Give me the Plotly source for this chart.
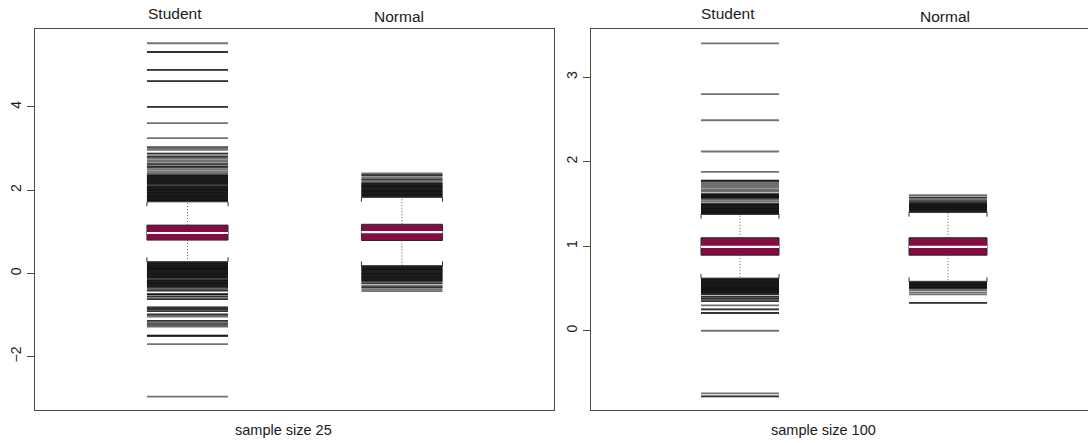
import plotly.graph_objects as go

# ---------------------------------------------------------------- data
groups = ["Student", "Normal"]
positions = [1, 2]

# sample size 25: box statistics per group (Student, Normal)
n25_q1 = [0.80, 0.79]
n25_median = [0.97, 0.99]
n25_q3 = [1.16, 1.18]
n25_whisker_low = [0.28, 0.18]
n25_whisker_high = [1.72, 1.83]

n25_student_outliers = [
    5.53, 5.32, 5.32, 4.89, 4.89, 4.62, 4.62, 4.00, 4.00, 3.61, 3.25,
    3.04, 3.01, 2.97, 2.88, 2.88, 2.82, 2.80, 2.77, 2.72, 2.68, 2.63,
    2.62, 2.58, 2.56, 2.54, 2.50, 2.45, 2.41,
    2.37, 2.355, 2.34, 2.33, 2.31, 2.30, 2.285, 2.27, 2.26, 2.24, 2.23,
    2.215, 2.20, 2.185, 2.17, 2.16, 2.145, 2.12,
    2.095, 2.08, 2.07, 2.055, 2.04, 2.025, 2.01, 2.00, 1.985, 1.97,
    1.955, 1.94, 1.93, 1.915, 1.90, 1.885, 1.87, 1.86, 1.845, 1.83,
    1.815, 1.80, 1.79, 1.775, 1.76, 1.75, 1.74,
    0.27, 0.255, 0.245, 0.23, 0.215, 0.20, 0.19, 0.175, 0.16, 0.145,
    0.13, 0.12, 0.105, 0.09, 0.075, 0.065, 0.05, 0.035, 0.02, 0.005,
    -0.005, -0.02, -0.035, -0.05, -0.065, -0.075, -0.09, -0.105, -0.12,
    -0.155, -0.165, -0.18, -0.195, -0.21, -0.225, -0.24, -0.25, -0.265,
    -0.28, -0.295, -0.31, -0.325, -0.335,
    -0.37, -0.40, -0.42, -0.50, -0.50, -0.51, -0.56, -0.56, -0.62, -0.62,
    -0.82, -0.82, -0.86, -0.86, -0.905, -0.905, -0.98, -1.00, -1.04,
    -1.14, -1.14, -1.19, -1.22, -1.25, -1.28, -1.49, -1.50, -1.51,
    -1.70, -2.96,
]
n25_normal_outliers = [
    2.40, 2.36, 2.36, 2.31, 2.26, 2.26, 2.215,
    2.175, 2.165, 2.15, 2.135, 2.12, 2.105, 2.09, 2.08, 2.065, 2.05,
    2.035, 2.02, 2.005, 1.99, 1.98, 1.965, 1.95, 1.935, 1.92, 1.905,
    1.895, 1.88, 1.865, 1.85, 1.84,
    0.175, 0.165, 0.15, 0.135, 0.12, 0.105, 0.09, 0.08, 0.065, 0.05,
    0.035, 0.02, 0.005, -0.005, -0.02, -0.035, -0.05, -0.065, -0.08,
    -0.09, -0.105, -0.12, -0.135, -0.15, -0.165, -0.18, -0.195,
    -0.24, -0.24, -0.30, -0.335, -0.335, -0.385, -0.425,
]

# sample size 100
n100_q1 = [0.894, 0.894]
n100_median = [0.992, 0.992]
n100_q3 = [1.10, 1.10]
n100_whisker_low = [0.619, 0.579]
n100_whisker_high = [1.378, 1.403]

n100_student_outliers = [
    3.40, 2.80, 2.49, 2.12, 1.88, 1.776, 1.776, 1.77, 1.75, 1.73, 1.71,
    1.69, 1.665, 1.645,
    1.62, 1.613, 1.607, 1.60, 1.593, 1.586, 1.58, 1.573, 1.565,
    1.55, 1.53,
    1.505, 1.499, 1.492, 1.485, 1.479, 1.472, 1.465, 1.458, 1.452, 1.445,
    1.438, 1.432, 1.425, 1.418, 1.411, 1.405, 1.398, 1.391, 1.385, 1.379,
    0.619, 0.612, 0.606, 0.599, 0.592, 0.585, 0.579, 0.572, 0.565, 0.558,
    0.552, 0.545, 0.538, 0.532, 0.525, 0.518, 0.511, 0.505, 0.498, 0.491,
    0.485, 0.478, 0.471, 0.464, 0.458, 0.451, 0.444,
    0.43, 0.43, 0.40, 0.40, 0.378, 0.378, 0.35, 0.35, 0.30, 0.253, 0.253,
    0.21, 0.21, 0.0, -0.74, -0.775, -0.775,
]
n100_normal_outliers = [
    1.603, 1.575, 1.575, 1.55, 1.535, 1.52,
    1.51, 1.503, 1.497, 1.49, 1.483, 1.476, 1.47, 1.463, 1.456, 1.45,
    1.443, 1.436, 1.429, 1.423, 1.416, 1.409, 1.403,
    0.58, 0.573, 0.567, 0.56, 0.553, 0.546, 0.54, 0.533, 0.526, 0.52,
    0.513, 0.506, 0.50,
    0.48, 0.455, 0.43, 0.33, 0.33,
]

panel_titles = ["sample size 25", "sample size 100"]

# ---------------------------------------------------------------- layout
W, H = 1088, 443
FONT = "Liberation Sans, Arial, Helvetica, sans-serif"
BOX_FILL = "#850B45"
FRAME = "#4a4a4a"
TEXT = "#1a1a1a"

panels = [
    dict(xa="xaxis", ya="yaxis", xr="x", yr="y",
         dom_px=(35, 554), xrange=(0.289, 2.709), yrange=(-3.283, 5.885),
         yticks=[-2, 0, 2, 4], bw=0.378, mirror_y=True,
         q1=n25_q1, med=n25_median, q3=n25_q3,
         wlo=n25_whisker_low, whi=n25_whisker_high,
         outs=[n25_student_outliers, n25_normal_outliers],
         title=panel_titles[0], title_x=283),
    dict(xa="xaxis2", ya="yaxis2", xr="x2", yr="y2",
         dom_px=(591, 1088), xrange=(0.2837, 2.673), yrange=(-0.937, 3.575),
         yticks=[0, 1, 2, 3], bw=0.375, mirror_y=False,
         q1=n100_q1, med=n100_median, q3=n100_q3,
         wlo=n100_whisker_low, whi=n100_whisker_high,
         outs=[n100_student_outliers, n100_normal_outliers],
         title=panel_titles[1], title_x=823),
]

TOP_PX, BOTTOM_PX = 28.5, 410
ydom = [1 - BOTTOM_PX / H, 1 - TOP_PX / H]

# horizontal nudge (px) and vertical centre (px from top) of the group labels
label_shift = [-12, -3]
label_top = [14, 17]

fig = go.Figure()
layout = dict(
    width=W, height=H, margin=dict(l=0, r=0, t=0, b=0),
    paper_bgcolor="white", plot_bgcolor="white", showlegend=False,
    font=dict(family=FONT, size=14, color=TEXT),
    barmode="overlay", annotations=[],
)

for p in panels:
    x0px, x1px = p["dom_px"]
    ppu_x = (x1px - x0px) / (p["xrange"][1] - p["xrange"][0])
    ppu_y = (BOTTOM_PX - TOP_PX) / (p["yrange"][1] - p["yrange"][0])
    stroke_px = p["bw"] * ppu_x
    leg = 4.5 / ppu_y
    half = p["bw"] / 2

    layout[p["xa"]] = dict(
        domain=[x0px / W, x1px / W], range=list(p["xrange"]),
        anchor=p["yr"], showgrid=False, zeroline=False,
        showline=True, linecolor=FRAME, linewidth=1.2, mirror=True,
        showticklabels=False, ticks="",
    )
    layout[p["ya"]] = dict(
        domain=ydom, range=list(p["yrange"]), anchor=p["xr"],
        showgrid=False, zeroline=False,
        showline=True, linecolor=FRAME, linewidth=1.2, mirror=p["mirror_y"],
        tickmode="array", tickvals=p["yticks"],
        ticks="outside", ticklen=7, tickcolor=FRAME, tickwidth=1,
        tickangle=-90, tickfont=dict(size=14, color=TEXT),
    )

    for i, c in enumerate(positions):
        # outlying values drawn as horizontal strokes across the box width
        # (plotly's line-ew symbol is 1.4 x its marker size long)
        vals = p["outs"][i]
        fig.add_trace(go.Scatter(
            x=[c] * len(vals), y=vals, mode="markers", xaxis=p["xr"], yaxis=p["yr"],
            marker=dict(symbol="line-ew", size=stroke_px / 1.4,
                        line=dict(width=1.8, color="rgba(0,0,0,0.55)")),
            hoverinfo="y",
        ))
        # dotted whiskers
        for a, b in ((p["q3"][i], p["whi"][i]), (p["q1"][i], p["wlo"][i])):
            fig.add_trace(go.Scatter(
                x=[c, c], y=[a, b], mode="lines", xaxis=p["xr"], yaxis=p["yr"],
                line=dict(color="#555555", width=1, dash="1px,2px"), hoverinfo="skip",
            ))
        # staples with short legs pointing back to the box
        hi, lo = p["whi"][i], p["wlo"][i]
        fig.add_trace(go.Scatter(
            x=[c - half, c - half, c + half, c + half, None,
               c - half, c - half, c + half, c + half],
            y=[hi - leg, hi, hi, hi - leg, None, lo + leg, lo, lo, lo + leg],
            mode="lines", xaxis=p["xr"], yaxis=p["yr"],
            line=dict(color="#333333", width=1), hoverinfo="skip",
        ))

    # boxes
    fig.add_trace(go.Bar(
        x=positions, y=[b - a for a, b in zip(p["q1"], p["q3"])], base=p["q1"],
        width=p["bw"], xaxis=p["xr"], yaxis=p["yr"],
        marker=dict(color=BOX_FILL, line=dict(color="#2a2a2a", width=1)),
        hoverinfo="skip",
    ))
    # medians
    for i, c in enumerate(positions):
        fig.add_trace(go.Scatter(
            x=[c - half, c + half], y=[p["med"][i]] * 2, mode="lines",
            xaxis=p["xr"], yaxis=p["yr"],
            line=dict(color="white", width=2.2), hoverinfo="y",
        ))

    # group labels above the frame
    for i, c in enumerate(positions):
        layout["annotations"].append(dict(
            x=c, xref=p["xr"], y=1 - label_top[i] / H, yref="paper",
            xshift=label_shift[i],
            text=groups[i], showarrow=False, xanchor="center", yanchor="middle",
            font=dict(size=15.5, color=TEXT),
        ))
    layout["annotations"].append(dict(
        x=p["title_x"] / W, xref="paper", y=1 - 430 / H, yref="paper",
        text=p["title"], showarrow=False, xanchor="center", yanchor="middle",
        font=dict(size=14.5, color=TEXT),
    ))

fig.update_layout(**layout)
fig.write_html("out.html")
